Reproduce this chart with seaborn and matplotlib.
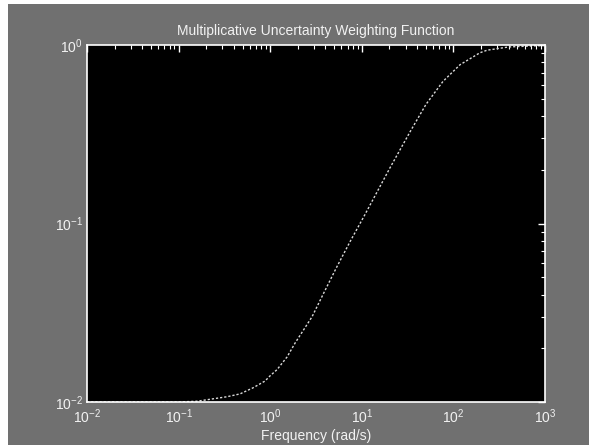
import matplotlib
matplotlib.use("Agg")
import matplotlib.pyplot as plt
from matplotlib.patches import Rectangle
from matplotlib.ticker import LogLocator, NullFormatter
import seaborn as sns
import pandas as pd

# Data (frequency in rad/s, magnitude)
freq = [0.01, 0.03, 0.1, 0.159, 0.337, 0.468, 0.648, 0.877, 0.995, 1.19, 1.53,
        1.87, 2.86, 3.77, 5.23, 7.43, 10.8, 20.3, 33.6, 50.2, 76.9, 118, 195,
        233, 400, 1000]
mag = [0.0100, 0.0100, 0.0100, 0.0101, 0.0107, 0.0111, 0.0120, 0.0131, 0.0140,
       0.0152, 0.0179, 0.0214, 0.0300, 0.0400, 0.0560, 0.0790, 0.112, 0.205,
       0.326, 0.465, 0.625, 0.775, 0.905, 0.935, 0.975, 0.995]

title = "Multiplicative Uncertainty Weighting Function"
xlabel = "Frequency (rad/s)"

df = pd.DataFrame({"freq": freq, "mag": mag})

sns.set_style("dark")
fam = ["Liberation Sans Narrow", "Liberation Sans", "DejaVu Sans"]
plt.rcParams["font.family"] = fam
plt.rcParams["mathtext.fontset"] = "custom"
plt.rcParams["mathtext.rm"] = "Liberation Sans Narrow"
plt.rcParams["mathtext.it"] = "Liberation Sans Narrow:italic"

W, H = 589, 445
fig = plt.figure(figsize=(W / 100, H / 100), dpi=100, facecolor="white")
fig.patches.append(Rectangle((8 / W, 0), 1 - 8 / W, 1 - 4 / H, transform=fig.transFigure,
                             facecolor="#707070", edgecolor="none", zorder=-10))

ax = fig.add_axes([87 / W, 1 - 402 / H, 458 / W, 357 / H])
ax.set_facecolor("black")

sns.lineplot(data=df, x="freq", y="mag", ax=ax, color="#d9d9d9", lw=1.0,
             linestyle=(0, (1.6, 1.4)), sort=True)

ax.set_xscale("log")
ax.set_yscale("log")
ax.set_xlim(1e-2, 1e3)
ax.set_ylim(1e-2, 1e0)
ax.grid(False)

ax.xaxis.set_major_locator(LogLocator(base=10, numticks=10))
ax.xaxis.set_minor_locator(LogLocator(base=10, subs=range(2, 10), numticks=100))
ax.yaxis.set_major_locator(LogLocator(base=10, numticks=10))
ax.yaxis.set_minor_locator(LogLocator(base=10, subs=range(2, 10), numticks=100))
ax.xaxis.set_minor_formatter(NullFormatter())
ax.yaxis.set_minor_formatter(NullFormatter())

for s in ax.spines.values():
    s.set_color("white")
    s.set_linewidth(1.2)

ax.tick_params(which="both", direction="in", top=True, right=True,
               colors="white", labelcolor="#f2f2f2", labelsize=10)
ax.tick_params(which="major", length=5, width=1)
ax.tick_params(which="minor", length=3, width=0.8)
ax.tick_params(axis="x", which="major", pad=4)
ax.tick_params(axis="y", which="major", pad=3)

ax.set_title(title, color="#f2f2f2", fontsize=10, pad=7)
ax.set_xlabel(xlabel, color="#f2f2f2", fontsize=10, labelpad=2)
ax.set_ylabel("")

fig.savefig("out.png", dpi=100, facecolor=fig.get_facecolor())
